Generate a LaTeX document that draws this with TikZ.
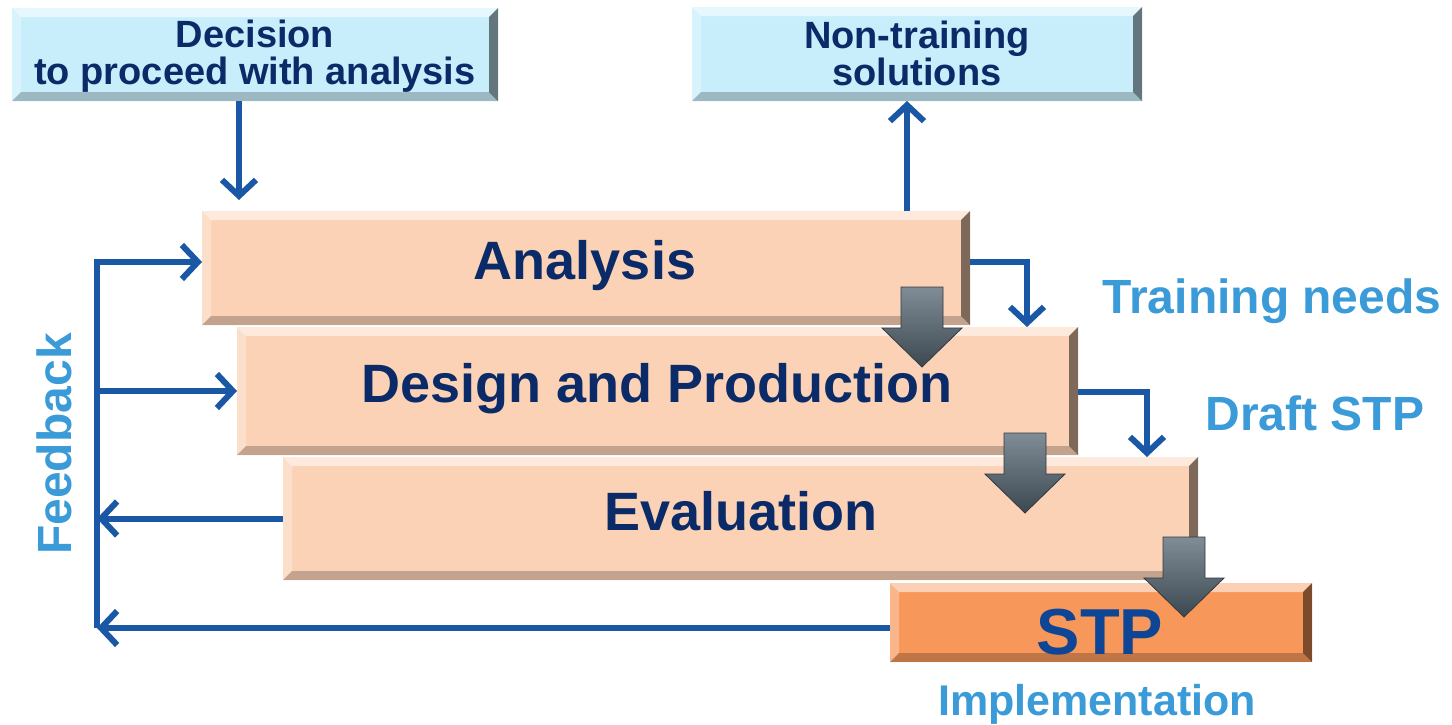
\documentclass[tikz,border=0pt]{standalone}
\usepackage{fontspec}
\setmainfont{Liberation Sans}
\usetikzlibrary{arrows.meta}
\definecolor{navy}{HTML}{0B2A68}
\definecolor{stpblue}{HTML}{0E4595}
\definecolor{lblue}{HTML}{3A9BD8}
\definecolor{lineblue}{HTML}{1A58A6}
\definecolor{skybox}{HTML}{C8EEFB}
\definecolor{peach}{HTML}{FBD2B5}
\definecolor{orangebox}{HTML}{F7975A}
\definecolor{arrowgray}{HTML}{566773}
\newcommand\grayarrow[2]{%
  \shade[top color=arrowgray!75!white, bottom color=arrowgray!70!black,
         draw=arrowgray!55!black, line width=0.8pt, line join=miter]
  ({#1-21},{#2}) -- ({#1+21},{#2}) -- ({#1+21},{#2+41}) -- ({#1+40},{#2+41})
  -- ({#1},{#2+80}) -- ({#1-40},{#2+41}) -- ({#1-21},{#2+41}) -- cycle;}
\tikzset{
  bevelbox/.style={draw=none, inner sep=0pt, outer sep=0pt, fill=#1,
    path picture={
      \coordinate (bnw) at (path picture bounding box.north west);
      \coordinate (bne) at (path picture bounding box.north east);
      \coordinate (bsw) at (path picture bounding box.south west);
      \coordinate (bse) at (path picture bounding box.south east);
      \fill[white, opacity=0.55] (bnw) -- (bne) -- ([shift={(-9pt,-9pt)}]bne) -- ([shift={(9pt,-9pt)}]bnw) -- cycle;
      \fill[white, opacity=0.3] (bnw) -- ([shift={(9pt,-9pt)}]bnw) -- ([shift={(9pt,9pt)}]bsw) -- (bsw) -- cycle;
      \fill[black, opacity=0.22] (bsw) -- ([shift={(9pt,9pt)}]bsw) -- ([shift={(-9pt,9pt)}]bse) -- (bse) -- cycle;
      \fill[black, opacity=0.5] (bne) -- (bse) -- ([shift={(-9pt,9pt)}]bse) -- ([shift={(-9pt,-9pt)}]bne) -- cycle;
    }},
  boxtext/.style={text=navy, font=\fontsize{54}{60}\selectfont\bfseries, inner sep=0pt},
  toptext/.style={text=navy, font=\fontsize{38}{37}\selectfont\bfseries, align=center, inner sep=0pt},
  sidetext/.style={text=lblue, font=\fontsize{48}{52}\selectfont\bfseries, inner sep=0pt},
  conn/.style={draw=lineblue, line width=6pt, line join=miter,
    -{Straight Barb[length=16pt, width=34pt]}},
  plainline/.style={draw=lineblue, line width=6pt, line join=miter}
}
\begin{document}
\begin{tikzpicture}[x=1pt, y=-1pt]
\useasboundingbox (0,0) rectangle (1452,724);
% top boxes
\node[bevelbox=skybox, minimum width=486pt, minimum height=93pt] (dec) at (255,54.5) {};
\node[toptext] (tdec) at (255,56.5) {Decision\\to proceed with analysis};
\node[bevelbox=skybox, minimum width=450pt, minimum height=94pt] (non) at (917,54) {};
\node[toptext] (tnon) at (917,53.5) {Non-training\\solutions};
% stages
\node[bevelbox=peach, minimum width=768pt, minimum height=114pt] (ana) at (586,268) {};
\node[bevelbox=peach, minimum width=841pt, minimum height=128pt] (des) at (657.5,391) {};
\node[bevelbox=peach, minimum width=915pt, minimum height=123pt] (eva) at (740.5,518.5) {};
\node[bevelbox=orangebox, minimum width=422pt, minimum height=79pt] (stp) at (1101,622.5) {};
\node[boxtext, anchor=base] (tana) at (585,279) {Analysis};
\node[boxtext, anchor=base] (tdes) at (657,402) {Design and Production};
\node[boxtext, anchor=base] (teva) at (741,530) {Evaluation};
\node[boxtext, anchor=base, text=stpblue, font=\fontsize{65}{70}\selectfont\bfseries] (tstp) at (1100,654) {STP};
% side labels
\node[sidetext, anchor=base] (ltn) at (1272,313) {Training needs};
\node[sidetext, anchor=base] (ldr) at (1315,430) {Draft STP};
\node[sidetext, anchor=base, font=\fontsize{43}{48}\selectfont\bfseries] (lim) at (1097,715) {Implementation};
\node[sidetext, rotate=90] (lfb) at (54,444) {Feedback};
% connectors
\draw[conn, shorten >=11pt] ([xshift=-16pt]dec.south) -- ([xshift=-347pt]ana.north);
\draw[conn] ([xshift=321pt]ana.north) -- ([xshift=-10pt]non.south);
\draw[conn] ([yshift=6pt]ana.east) -| ([xshift=369.5pt]des.north);
\draw[conn] ([yshift=-1pt]des.east) -| ([xshift=406.5pt]eva.north);
\coordinate (fbtop) at (97,262);
\coordinate (fbbot) at (97,628);
\draw[conn] (fbbot) -- (fbtop) -- ([yshift=6pt]ana.west);
\draw[conn] (fbtop |- des.west) -- (des.west);
\draw[conn] (eva.west) -- (fbtop |- eva.west);
\draw[conn] ([yshift=-5.5pt]stp.west) -- (fbbot);
% gray flow arrows
\grayarrow{922}{287}
\grayarrow{1025}{433}
\grayarrow{1184}{537}
\end{tikzpicture}
\end{document}
